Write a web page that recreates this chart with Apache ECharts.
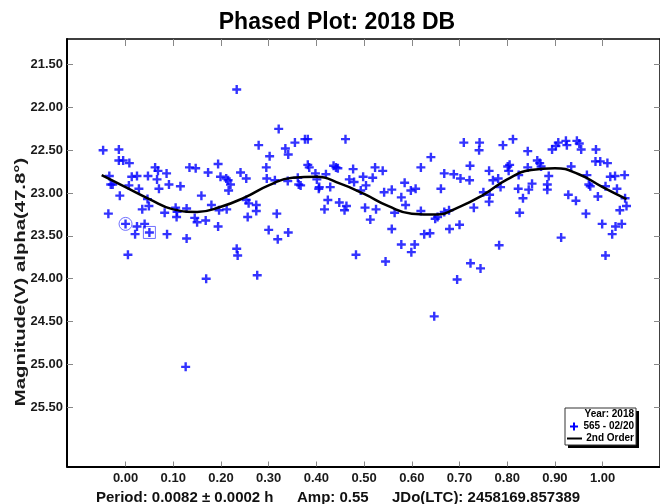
<!DOCTYPE html>
<html>
<head>
<meta charset="utf-8">
<script src="https://cdn.jsdelivr.net/npm/echarts@6.0.0/dist/echarts.min.js"></script>
<style>
  html, body { margin: 0; padding: 0; background: #fff; }
  #chart { width: 660px; height: 504px; }
</style>
</head>
<body>
<div id="chart"></div>
<script>
// observed points (phase, V magnitude)
const phase = [
  -0.047,-0.014,-0.014,-0.005,0.008,-0.034,-0.031,-0.027,-0.012,-0.036,0.000,0.024,0.020,0.040,0.050,0.005,0.013,0.024,0.007,0.028,
  0.047,0.062,0.068,0.066,0.086,0.070,0.091,0.115,0.046,0.049,0.035,0.082,0.105,0.107,0.108,0.128,0.087,0.128,0.145,0.150,
  0.168,0.159,0.134,0.147,0.173,0.194,0.199,0.211,0.215,0.220,0.216,0.180,0.196,0.212,0.194,0.241,0.253,0.253,0.258,0.274,
  0.256,0.274,0.233,0.279,0.233,0.235,0.276,0.169,0.126,
  0.321,0.302,0.335,0.341,0.355,0.376,0.382,0.461,0.295,0.296,0.313,0.340,0.361,0.363,0.367,0.382,0.385,0.398,0.401,0.405,
  0.406,0.420,0.429,0.436,0.441,0.445,0.469,0.477,0.479,0.498,0.504,0.493,0.518,0.523,0.539,0.317,0.300,0.319,0.341,0.424,
  0.417,0.448,0.463,0.459,0.502,0.525,0.513,0.483,0.542,0.558,0.585,0.578,0.587,0.598,0.608,0.619,0.640,0.564,0.619,0.649,
  0.626,0.638,0.558,0.578,0.606,0.599,0.545,0.647,
  0.709,0.742,0.741,0.791,0.812,0.843,0.668,0.688,0.702,0.722,0.721,0.762,0.770,0.781,0.786,0.801,0.805,0.803,0.824,0.823,
  0.845,0.852,0.833,0.843,0.863,0.868,0.871,0.884,0.884,0.887,0.894,0.902,0.907,0.923,0.925,0.946,0.951,0.955,0.986,0.985,
  0.995,1.010,0.934,0.967,0.971,0.974,0.990,1.016,1.026,1.046,1.006,1.030,1.047,1.050,1.036,0.928,0.944,0.826,0.763,0.762,
  0.750,0.730,0.661,0.678,0.668,0.654,0.679,0.700,0.783,0.723,0.744,0.695,0.913,0.965,0.999,1.027,1.040,1.020,1.006
];
const mag = [
  22.50,22.49,22.62,22.62,22.65,22.80,22.90,22.90,23.03,23.24,23.36,23.39,23.48,23.36,23.46,23.72,22.81,22.80,22.91,22.95,
  22.80,22.70,22.74,22.84,22.77,22.95,22.90,22.92,23.07,23.15,23.19,23.23,23.17,23.28,23.22,23.18,23.48,23.53,23.29,23.34,
  23.32,23.03,22.70,22.71,22.76,22.66,22.81,22.83,22.85,22.90,22.97,23.14,23.20,23.19,23.39,22.76,22.83,23.08,23.12,23.14,
  23.28,23.21,21.79,22.44,23.65,23.73,23.96,24.00,25.03,
  22.25,22.57,22.48,22.55,22.41,22.37,22.37,22.37,22.70,22.83,22.85,22.86,22.82,22.90,22.91,22.67,22.70,22.77,22.84,22.95,
  22.93,22.78,22.93,22.68,22.70,22.71,22.84,22.72,22.87,22.81,22.91,22.97,22.82,22.70,22.74,23.24,23.43,23.54,23.46,23.08,
  23.19,23.11,23.15,23.20,23.17,23.19,23.31,23.72,22.99,22.96,22.88,23.05,23.14,22.97,22.95,22.70,22.58,23.23,23.21,23.30,
  23.48,23.47,23.42,23.60,23.60,23.69,23.80,24.44,
  22.41,22.41,22.50,22.44,22.37,22.51,22.77,22.78,22.83,22.68,22.85,22.74,22.85,22.83,22.93,22.69,22.67,22.74,22.79,22.95,
  22.96,22.89,23.06,22.70,22.62,22.65,22.69,22.90,22.96,22.80,22.49,22.45,22.41,22.39,22.44,22.39,22.42,22.49,22.49,22.63,
  22.63,22.65,22.69,22.79,22.90,22.92,23.04,22.81,22.80,22.79,22.92,22.95,23.06,23.15,23.20,23.02,23.09,23.23,23.02,23.10,
  22.99,23.17,22.95,23.20,23.22,23.28,23.42,23.37,23.61,23.82,23.88,24.01,23.52,23.24,23.36,23.39,23.36,23.48,23.73
];

// flagged points
const circledPoint = [0.000, 23.36];
const boxedPoint = [0.050, 23.46];

// 2nd order fit
const fitPhase = [-0.05,0.00,0.05,0.10,0.15,0.20,0.25,0.30,0.35,0.40,0.45,0.50,0.55,0.60,0.65,0.70,0.75,0.80,0.85,0.90,0.95,1.00,1.05];
const fitMag   = [22.79,22.93,23.07,23.19,23.22,23.16,23.05,22.91,22.82,22.81,22.89,23.01,23.15,23.24,23.25,23.16,23.02,22.84,22.73,22.71,22.78,22.93,23.07];

const xTicks = [0,0.1,0.2,0.3,0.4,0.5,0.6,0.7,0.8,0.9,1.0];
const yTicks = [21.5,22.0,22.5,23.0,23.5,24.0,24.5,25.0,25.5];

const FONT = "'Liberation Sans', Arial, sans-serif";
const PLUS = "path://M3.3,0h2.4v3.3h3.3v2.4h-3.3v3.3h-2.4v-3.3h-3.3v-2.4h3.3z";

const chart = echarts.init(document.getElementById("chart"));

const tickStyle = { lineStyle: { color: "#888", width: 1 } };

// plus glyph for the legend, centred on (cx, cy)
function plusPoints(cx, cy) {
  const a = 1, b = 4;
  return [
    [cx - a, cy - b], [cx + a, cy - b], [cx + a, cy - a], [cx + b, cy - a],
    [cx + b, cy + a], [cx + a, cy + a], [cx + a, cy + b], [cx - a, cy + b],
    [cx - a, cy + a], [cx - b, cy + a], [cx - b, cy - a], [cx - a, cy - a],
  ];
}

const option = {
  backgroundColor: "#fff",
  animation: false,
  title: {
    text: "Phased Plot: 2018 DB",
    left: 332,
    top: 6,
    textAlign: "center",
    textStyle: { fontFamily: FONT, fontSize: 23, fontWeight: "bold", color: "#000" },
  },
  grid: { left: 67, top: 39, width: 594.5, height: 427.5 },
  xAxis: [
    {
      type: "value", position: "bottom", min: -0.1227, max: 1.1202,
      splitLine: { show: false },
      axisLine: { onZero: false, lineStyle: { color: "#000", width: 2 } },
      axisTick: { inside: true, length: 5, customValues: xTicks, ...tickStyle },
      axisLabel: {
        customValues: xTicks, margin: 5,
        formatter: (v) => v.toFixed(2),
        fontFamily: FONT, fontSize: 13, fontWeight: "bold", color: "#1a1a1a",
      },
    },
    {
      type: "value", position: "top", min: -0.1227, max: 1.1202,
      splitLine: { show: false },
      axisLine: { onZero: false, lineStyle: { color: "#000", width: 1.5 } },
      axisTick: { inside: true, length: 7, customValues: xTicks, ...tickStyle },
      axisLabel: { show: false },
    },
  ],
  yAxis: [
    {
      type: "value", position: "left", inverse: true, min: 21.2, max: 26.194,
      splitLine: { show: false },
      axisLine: { onZero: false, lineStyle: { color: "#000", width: 2 } },
      axisTick: { inside: true, length: 6, customValues: yTicks, ...tickStyle },
      axisLabel: {
        customValues: yTicks, margin: 4,
        formatter: (v) => v.toFixed(2),
        fontFamily: FONT, fontSize: 13, fontWeight: "bold", color: "#1a1a1a",
      },
    },
    {
      type: "value", position: "right", inverse: true, min: 21.2, max: 26.194,
      splitLine: { show: false },
      axisLine: { onZero: false, lineStyle: { color: "#000", width: 1.5 } },
      axisTick: { inside: true, length: 6, customValues: yTicks, ...tickStyle },
      axisLabel: { show: false },
    },
  ],
  series: [
    {
      name: "565 - 02/20",
      type: "scatter",
      symbol: PLUS,
      symbolSize: 9,
      itemStyle: { color: "#0000ff" },
      data: phase.map((p, i) => [p, mag[i]]),
      z: 3,
    },
    {
      name: "flag circle",
      type: "scatter",
      symbol: "circle",
      symbolSize: 13,
      itemStyle: { color: "rgba(0,0,0,0)", borderColor: "#4d4dff", borderWidth: 1 },
      data: [circledPoint],
      z: 2,
    },
    {
      name: "flag box",
      type: "scatter",
      symbol: "rect",
      symbolSize: 12,
      itemStyle: { color: "rgba(0,0,0,0)", borderColor: "#4d4dff", borderWidth: 1 },
      data: [boxedPoint],
      z: 2,
    },
    {
      name: "2nd Order",
      type: "line",
      smooth: true,
      showSymbol: false,
      lineStyle: { color: "#000", width: 2.5 },
      data: fitPhase.map((p, i) => [p, fitMag[i]]),
      z: 4,
    },
  ],
  graphic: [
    {
      type: "text", x: 21, y: 282, rotation: Math.PI / 2, scaleX: 1.45,
      style: {
        text: "Magnitude(V) alpha(47.8°)", textAlign: "center", textVerticalAlign: "middle",
        font: "bold 14px " + FONT, fill: "#1a1a1a",
      },
    },
    { type: "text", x: 96, y: 498, style: { text: "Period: 0.0082 ± 0.0002 h", textVerticalAlign: "middle", font: "bold 15px " + FONT, fill: "#111" } },
    { type: "text", x: 297, y: 498, style: { text: "Amp: 0.55", textVerticalAlign: "middle", font: "bold 15px " + FONT, fill: "#111" } },
    { type: "text", x: 392, y: 498, style: { text: "JDo(LTC): 2458169.857389", textVerticalAlign: "middle", font: "bold 15px " + FONT, fill: "#111" } },
    // legend box
    { type: "rect", shape: { x: 568, y: 411, width: 71, height: 37 }, style: { fill: "#000" }, z: 10 },
    { type: "rect", shape: { x: 565, y: 408, width: 71, height: 37 }, style: { fill: "#fff", stroke: "#333", lineWidth: 1 }, z: 11 },
    { type: "text", x: 634, y: 414, z: 12, style: { text: "Year: 2018", textAlign: "right", textVerticalAlign: "middle", font: "bold 10px " + FONT, fill: "#000" } },
    { type: "text", x: 634, y: 426.5, z: 12, style: { text: "565 - 02/20", textAlign: "right", textVerticalAlign: "middle", font: "bold 10px " + FONT, fill: "#000" } },
    { type: "text", x: 634, y: 438.5, z: 12, style: { text: "2nd Order", textAlign: "right", textVerticalAlign: "middle", font: "bold 10px " + FONT, fill: "#000" } },
    { type: "polygon", z: 12, shape: { points: plusPoints(574, 426.5) }, style: { fill: "#0000ff" } },
    { type: "line", z: 12, shape: { x1: 567, y1: 438.5, x2: 582, y2: 438.5 }, style: { stroke: "#000", lineWidth: 2 } },
  ],
};

chart.setOption(option);
</script>
</body>
</html>
